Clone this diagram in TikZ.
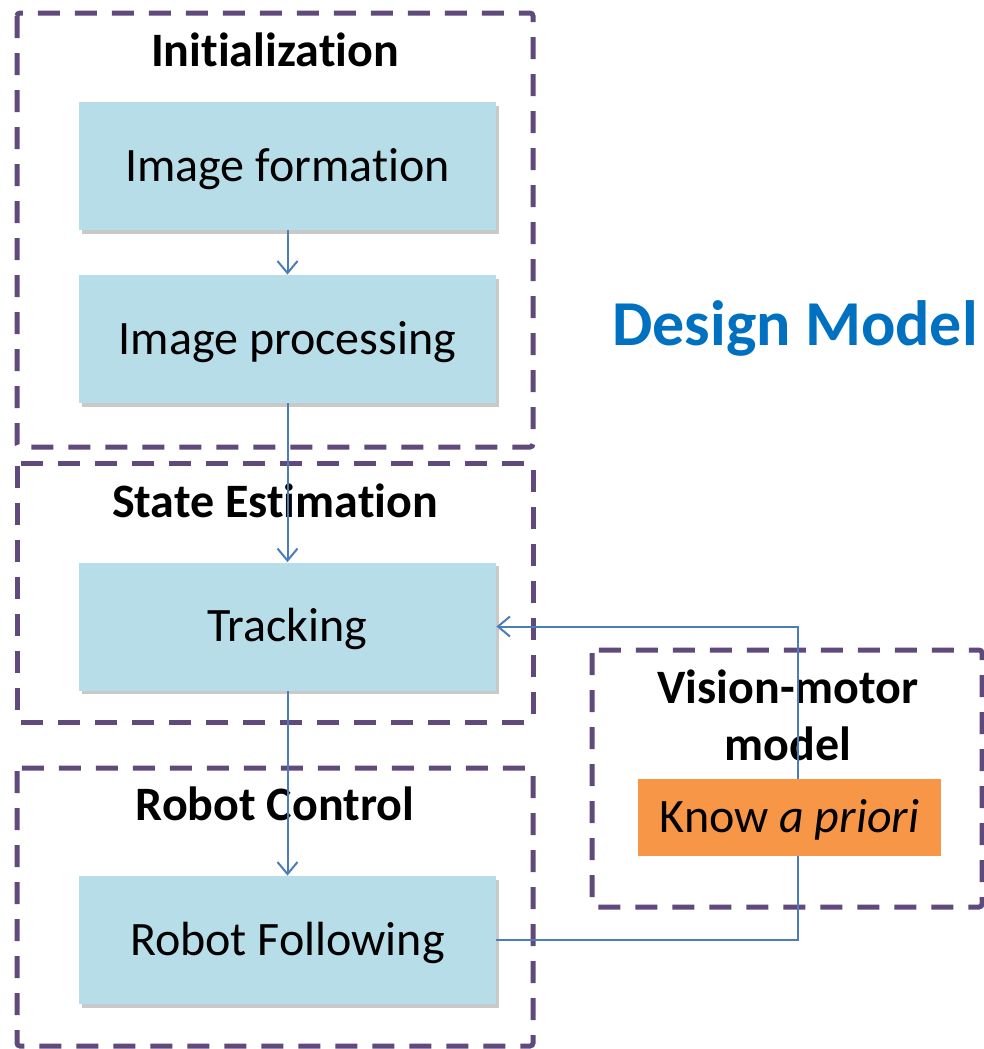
\documentclass[tikz,border=0pt]{standalone}
\usepackage{fontspec}
\setmainfont{Carlito}[Ligatures=NoCommon]
\usetikzlibrary{arrows.meta,shadows}
\definecolor{grpc}{HTML}{604A7B}
\definecolor{boxc}{HTML}{B7DDE8}
\definecolor{arrc}{HTML}{4A7EBB}
\definecolor{orc}{HTML}{F79646}
\definecolor{dmc}{HTML}{0070C0}
\tikzset{
  grp/.style={draw=grpc, line width=2.5pt, dash pattern=on 11pt off 7.5pt, rounded corners=1.5pt},
  blk/.style={fill=boxc, minimum width=208.5pt, minimum height=64pt, inner sep=0pt,
    font=\fontsize{24}{29}\selectfont, text height=17pt, text depth=2pt,
    drop shadow={shadow xshift=1.6pt, shadow yshift=-1.8pt, opacity=0.3, fill=black!70}},
  orb/.style={fill=orc, minimum width=151.5pt, minimum height=38.5pt, inner sep=0pt,
    font=\fontsize{24}{29}\selectfont, text height=17pt, text depth=2pt},
  ttl/.style={font=\bfseries\fontsize{24}{29}\selectfont, anchor=base, inner sep=0pt},
  arr/.style={draw=arrc, line width=1pt, -{Straight Barb[length=6pt,width=10pt,line width=1pt]}},
  ln/.style={draw=arrc, line width=1pt}
}
\begin{document}
\begin{tikzpicture}[x=0.5pt,y=-0.5pt]
\useasboundingbox (0,0) rectangle (984,1049);
% group frames
\draw[grp] (17,13) rectangle (533,447);
\draw[grp] (17,463) rectangle (533,722);
\draw[grp] (17,768) rectangle (533,1046);
\draw[grp] (592,650) rectangle (982,907);
% titles
\node[ttl] (tinit) at (275,66) {Initialization};
\node[ttl] (tstate) at (275,517) {State Estimation};
\node[ttl] (trobot) at (275,820) {Robot Control};
\node[ttl] (tvm1) at (788,703) {Vision-motor};
\node[ttl] (tvm2) at (788,760) {model};
\node[anchor=base, inner sep=0pt, text=dmc, font=\bfseries\fontsize{32}{38}\selectfont] (dm) at (795,345) {Design Model};
% blocks
\node[blk] (imf) at (287.5,166) {Image formation};
\node[blk] (imp) at (287.5,339) {Image processing};
\node[blk] (trk) at (287.5,626.5) {Tracking};
\node[blk] (rbf) at (287.5,940) {Robot Following};
% connectors
\coordinate (fb) at (798,780);
\draw[arr] (imf) -- (imp);
\draw[arr] (imp) -- (trk);
\draw[arr] (trk) -- (rbf);
\draw[arr] (rbf.east) -| (fb) |- (trk.east);
% know a priori box over the line
\node[orb] (kap) at (789.5,817.5) {Know \textit{a priori}};
\end{tikzpicture}
\end{document}
